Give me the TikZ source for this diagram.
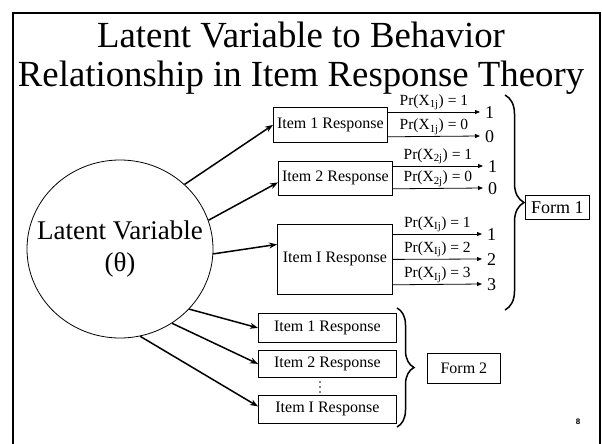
\documentclass[tikz,border=0pt]{standalone}
\usepackage{fontspec}
\setmainfont{Liberation Serif}
\newfontfamily\pagenofont{Liberation Sans}
\usetikzlibrary{arrows.meta,decorations.pathreplacing,shapes.geometric}

\begin{document}
\begin{tikzpicture}[x=1pt,y=-1pt,
  box/.style={draw, line width=0.8pt, inner sep=0pt, anchor=north west,
              font=\fontsize{16}{19}\selectfont},
  mainarrow/.style={line width=1.5pt, -{Stealth[length=8pt,width=6pt]}},
  smallarrow/.style={line width=0.8pt, -{Triangle[length=5pt,width=4pt]}},
  prlab/.style={above, inner sep=1.5pt, font=\fontsize{15.5}{18}\selectfont},
  vallab/.style={anchor=west, inner sep=1pt, xshift=4pt, yshift=-1pt,
                 font=\fontsize{18}{20}\selectfont},
  bracestyle/.style={line width=1.5pt, decorate},
  titlefont/.style={font=\fontsize{36.8}{43}\selectfont, anchor=base, inner sep=0pt},
  lvfont/.style={font=\fontsize{27}{32}\selectfont, anchor=base, inner sep=0pt}]

\useasboundingbox (0,0) rectangle (602,444);

% slide frame
\draw[line width=2pt] (13,446) -- (13,13) -- (600,13) -- (600,446);

% title
\node[titlefont] (title1) at (301,48) {Latent Variable to Behavior};
\node[titlefont] (title2) at (301,86) {Relationship in Item Response Theory};

% latent variable
\node[ellipse, draw, line width=0.8pt, minimum width=186pt, minimum height=178pt,
      inner sep=0pt] (lv) at (120,249) {};
\node[lvfont] (lvname) at (120,239) {Latent Variable};
\node[lvfont] (lvsym) at (120,271) {(θ)};

% form 1 items
\node[box, minimum width=114pt, minimum height=35pt] (b1) at (273,107) {Item 1 Response};
\node[box, minimum width=114pt, minimum height=34pt] (b2) at (278,161) {Item 2 Response};
\node[box, minimum width=115pt, minimum height=70pt] (bI) at (277,224) {Item I Response};

% form 2 items
\node[box, minimum width=138pt, minimum height=29pt] (fa) at (258,313) {Item 1 Response};
\node[box, minimum width=138pt, minimum height=27pt] (fb) at (258,350) {Item 2 Response};
\node[box, minimum width=138pt, minimum height=28pt] (fc) at (258,395) {Item I Response};
\foreach \y in {382,387,392} \fill (320,\y) circle (0.8pt);

% form labels
\node[box, minimum width=64pt, minimum height=24pt, font=\fontsize{18}{20}\selectfont]
  (form1) at (525,195) {Form 1};
\node[box, minimum width=73pt, minimum height=30pt] (form2) at (427,353) {Form 2};

% arrows from the latent variable
\draw[mainarrow] (lv.45) -- (b1.west);
\draw[mainarrow] (lv.18) -- ([yshift=-4pt]b2.west);
\draw[mainarrow] (lv.-3) -- ([yshift=15pt]bI.west);
\draw[mainarrow] (lv.-41) -- (fa.west);
\draw[mainarrow] (lv.-55) -- (fb.west);
\draw[mainarrow] (lv.-77) -- ([yshift=3pt]fc.west);

% response categories
\coordinate (t11) at (480,112);
\coordinate (t10) at (480,136);
\coordinate (t21) at (483,166);
\coordinate (t20) at (483,188);
\coordinate (tI1) at (482,234);
\coordinate (tI2) at (482,259);
\coordinate (tI3) at (482,284);

\draw[smallarrow] ([yshift=-5pt]b1.north east) -- node[prlab] {Pr(X\textsubscript{1j}) = 1} (t11);
\draw[smallarrow] ([yshift=6pt]b1.south east) -- node[prlab] {Pr(X\textsubscript{1j}) = 0} (t10);
\draw[smallarrow] ([yshift=-5pt]b2.north east) -- node[prlab] {Pr(X\textsubscript{2j}) = 1} (t21);
\draw[smallarrow] ([yshift=7pt]b2.south east) -- node[prlab] {Pr(X\textsubscript{2j}) = 0} (t20);
\draw[smallarrow] ([yshift=-10pt]bI.north east) -- node[prlab] {Pr(X\textsubscript{Ij}) = 1} (tI1);
\draw[smallarrow] (bI.east) -- node[prlab] {Pr(X\textsubscript{Ij}) = 2} (tI2);
\draw[smallarrow] ([yshift=10pt]bI.south east) -- node[prlab] {Pr(X\textsubscript{Ij}) = 3} (tI3);

\node[vallab] (v11) at (t11) {1};
\node[vallab] (v10) at (t10) {0};
\node[vallab] (v21) at (t21) {1};
\node[vallab] (v20) at (t20) {0};
\node[vallab] (vI1) at (tI1) {1};
\node[vallab] (vI2) at (tI2) {2};
\node[vallab] (vI3) at (tI3) {3};

% braces grouping the forms
\coordinate (br1top) at (505,95);
\coordinate (br1bot) at (505,310);
\coordinate (br2top) at (397,308);
\coordinate (br2bot) at (397,427);
\draw[bracestyle, decoration={brace, amplitude=19pt}] (br1top) -- (br1bot);
\draw[bracestyle, decoration={brace, amplitude=17pt}] (br2top) -- (br2bot);

% page number
\node[font=\pagenofont\bfseries\fontsize{8}{9}\selectfont] (pg) at (578,422) {8};
\end{tikzpicture}
\end{document}
